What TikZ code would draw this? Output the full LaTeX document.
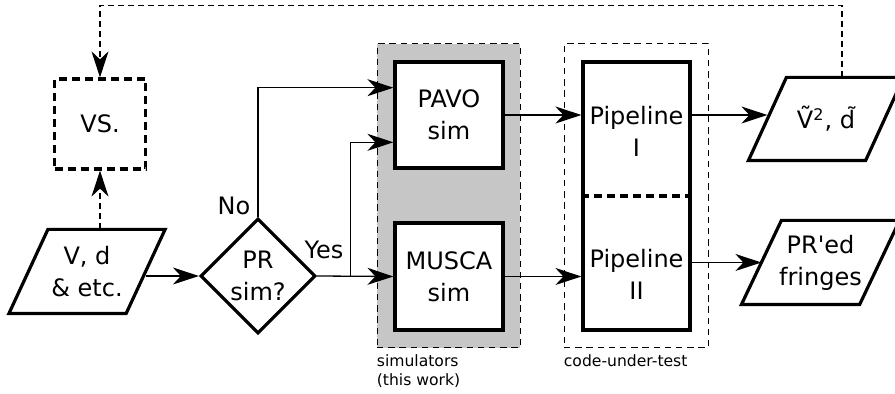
\documentclass[tikz,border=0pt]{standalone}
\usepackage{fontspec}
\setmainfont{DejaVu Sans}
\usetikzlibrary{arrows.meta,shapes.geometric,calc}
\tikzset{%
  block/.style  = {shape=rectangle, draw, fill=white, line width=1.6pt,%
                   align=center, font=\fontsize{12}{16}\selectfont},%
  io/.style     = {block, draw=none, fill=none, inner sep=0pt},%
  group/.style  = {draw, dashed, line width=0.5pt, dash pattern=on 3.2pt off 2.4pt},%
  note/.style   = {font=\fontsize{7.8}{9.5}\selectfont, align=left, inner sep=0pt},%
  answer/.style = {font=\fontsize{12}{16}\selectfont, inner sep=0pt},%
  flow/.style   = {line width=0.65pt, -{Stealth[length=13pt,width=8.5pt,inset=4pt]}},%
  fback/.style  = {flow, dashed, dash pattern=on 3pt off 2pt}%
}
% slanted frame round a node: #1 node, #2 half of the slant
\newcommand\slantframe[2]{%
  \draw [line width=1.6pt] ([xshift=-#2]#1.south west) -- ([xshift=#2]#1.north west)
    -- ([xshift=#2]#1.north east) -- ([xshift=-#2]#1.south east) -- cycle;}
\begin{document}
\begin{tikzpicture}[x=0.5pt,y=-0.5pt]
	\useasboundingbox (0,0) rectangle (895,394);
	\node (simgrp) at (448.5,196) [group, fill=gray!45,
		minimum width=71.5pt, minimum height=152pt] {};
	\node (cutgrp) at (636,196) [group,
		minimum width=72pt, minimum height=152pt] {};
	\node (simlabel) [note, anchor=north west, yshift=-3pt]
		at (simgrp.south west) {simulators\\(this work)};
	\node (cutlabel) [note, anchor=north west, yshift=-3pt]
		at (cutgrp.south west) {code-under-test};
	\node (vs) at (100,124) [block, dashed, dash pattern=on 4pt off 2.5pt,
		minimum width=45.5pt, minimum height=45pt] {VS.};
	\node (input) at (87,271.5) [io, minimum width=57pt,
		minimum height=40.5pt] {V, d\\\& etc.};
	\slantframe{input}{9.75pt}
	\node (prsim) at (258,276) [block, diamond, inner sep=0pt,
		minimum width=57.5pt, minimum height=57.5pt] {PR\\sim?};
	\node (pavo) at (449,115) [block, minimum width=54pt,
		minimum height=53pt] {PAVO\\sim};
	\node (musca) at (449,276.5) [block, minimum width=54pt,
		minimum height=53.5pt] {MUSCA\\sim};
	\node (pipe) at (636.5,196) [block, minimum width=53.5pt,
		minimum height=134pt] {};
	\node (pipeI) at (636.5,131) [block, draw=none, fill=none] {Pipeline\\I};
	\node (pipeII) at (636.5,274) [block, draw=none, fill=none] {Pipeline\\II};
	\draw [line width=1.6pt, dashed, dash pattern=on 4pt off 2.5pt]
		(pipe.west) -- (pipe.east);
	\node (outvis) at (826,119) [io, minimum width=57pt,
		minimum height=40pt] {\~{V}\textsuperscript{2}, \~{d}};
	\slantframe{outvis}{9.5pt}
	\node (outpr) at (820.5,262.5) [io, minimum width=57.5pt,
		minimum height=40.5pt] {PR\textquotesingle ed\\fringes};
	\slantframe{outpr}{10pt}
	\node (no) at (234,206) [answer] {No};
	\node (yes) at (324,250) [answer] {Yes};
	\draw [flow] (prsim.west -| input.east) -- (prsim.west);
	\draw [flow] (prsim.north) |- ($(pavo.north west)!0.25!(pavo.south west)$);
	\draw [flow] (prsim.east) -- (musca.west);
	\coordinate (yessplit) at ($(prsim.east)!0.44!(musca.west)$);
	\draw [flow] (yessplit) |- ($(pavo.north west)!0.75!(pavo.south west)$);
	\draw [flow] (pavo.east) -- (pavo.east -| pipe.west);
	\draw [flow] (musca.east) -- (musca.east -| pipe.west);
	\draw [flow] (pavo.east -| pipe.east) -- (pavo.east -| outvis.west);
	\draw [flow] (pipe.east |- outpr.west) -- (outpr.west);
	\draw [fback] (vs.south |- input.north) -- (vs.south);
	\draw [fback] ([xshift=8pt]outvis.north) -- ++(0,-72) -| (vs.north);
\end{tikzpicture}
\end{document}
